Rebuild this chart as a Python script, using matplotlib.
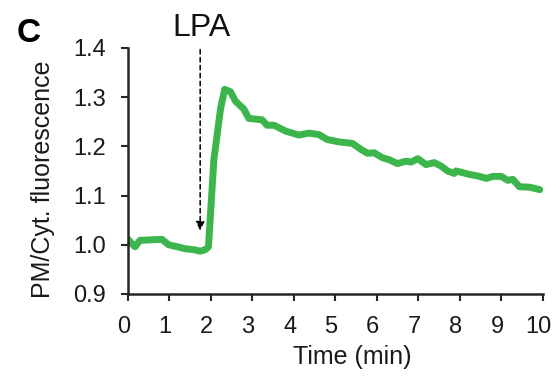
import matplotlib.pyplot as plt
import matplotlib.transforms as mtransforms

plt.rcParams['font.family'] = ['Liberation Sans', 'DejaVu Sans']

# PM/Cyt. fluorescence trace
time_min = [0.00, 0.18, 0.30, 0.55, 0.83, 0.99, 1.20, 1.39, 1.60, 1.75, 1.87, 1.95,
            2.08, 2.24, 2.34, 2.48, 2.60, 2.80, 2.92, 3.24, 3.36, 3.53, 3.81, 4.13,
            4.37, 4.61, 4.81, 5.10, 5.42, 5.62, 5.78, 5.94, 6.14, 6.30, 6.50, 6.71,
            6.83, 6.99, 7.19, 7.39, 7.55, 7.71, 7.87, 7.91, 8.24, 8.48, 8.64, 8.80,
            9.00, 9.16, 9.28, 9.44, 9.69, 9.93]
ratio = [1.012, 0.996, 1.009, 1.010, 1.011, 1.000, 0.996, 0.992, 0.990, 0.987, 0.990, 0.996,
         1.173, 1.276, 1.316, 1.311, 1.292, 1.276, 1.257, 1.254, 1.243, 1.243, 1.231, 1.223,
         1.227, 1.224, 1.214, 1.209, 1.206, 1.194, 1.186, 1.187, 1.177, 1.173, 1.165, 1.170,
         1.168, 1.175, 1.163, 1.167, 1.160, 1.150, 1.145, 1.150, 1.143, 1.139, 1.135, 1.139,
         1.139, 1.131, 1.133, 1.118, 1.117, 1.112]

x_ticks = list(range(0, 11))
y_ticks = [0.9, 1.0, 1.1, 1.2, 1.3, 1.4]
lpa_time = 1.75

fig = plt.figure(figsize=(5.6, 3.79), dpi=100)
ax = fig.add_axes([0.2277, 0.2243, 0.7414, 0.6491])

ax.plot(time_min, ratio, color='#3cb64c', lw=5, solid_capstyle='round', solid_joinstyle='round')

# LPA addition arrow
ax.annotate('', xy=(lpa_time, 1.029), xytext=(lpa_time, 1.397),
            arrowprops=dict(arrowstyle='-|>', linestyle=(0, (3, 2.2)), lw=1.1,
                            color='black', mutation_scale=13, shrinkA=0, shrinkB=0))
ax.text(1.78, 1.4245, 'LPA', fontsize=23, ha='center', va='baseline',
        clip_on=False, color='#111111')

ax.set_xlim(0, 10)
ax.set_ylim(0.9, 1.4)
ax.set_xticks(x_ticks)
ax.set_yticks(y_ticks)
ax.set_yticklabels(['{:.1f}'.format(v) for v in y_ticks])

for s in ['top', 'right']:
    ax.spines[s].set_visible(False)
for s in ['left', 'bottom']:
    ax.spines[s].set_linewidth(1.8)
    ax.spines[s].set_color('#262626')
ax.tick_params(direction='out', length=5, width=1.5, color='#262626',
               labelsize=17, labelcolor='#1a1a1a', pad=10.5)

# x tick labels sit slightly left of their ticks in the reference
shift = mtransforms.ScaledTranslation(-0.04, 0, fig.dpi_scale_trans)
for lab in ax.get_xticklabels():
    lab.set_transform(lab.get_transform() + shift)

ax.set_xlabel('Time (min)', fontsize=18, color='#1a1a1a')
ax.xaxis.set_label_coords(0.541, -0.207)
fig.text(43 / 560, 1 - 179 / 379, 'PM/Cyt. fluorescence', rotation=90, fontsize=18,
         color='#1a1a1a', ha='center', va='center')

fig.text(17 / 560, 1 - 42 / 379, 'C', fontsize=24, fontweight='bold', ha='left', va='baseline')

fig.savefig('out.png', dpi=100)
